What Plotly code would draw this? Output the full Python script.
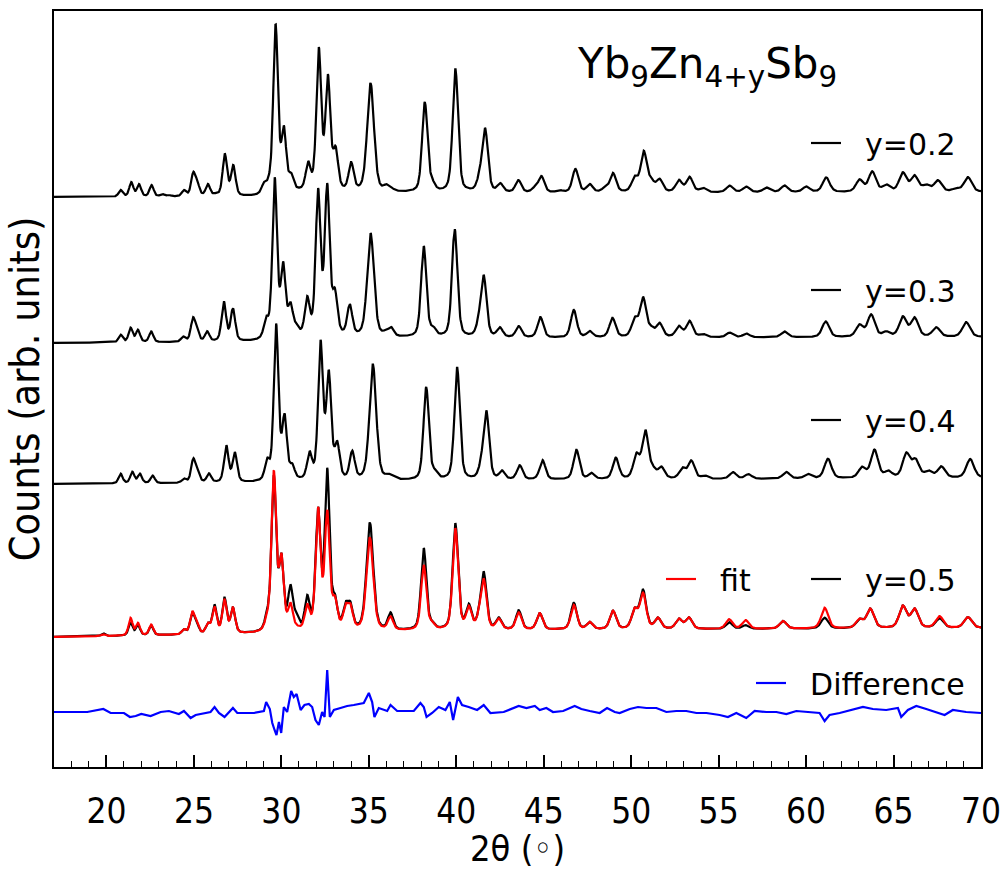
import numpy as np
import plotly.graph_objects as go

# ---------------- data ----------------
# peak positions (2theta, deg) and peak heights above background (arb. units)
pos_02 = [20.81, 21.42, 21.86, 22.58, 23.19, 23.57, 24.43, 24.96, 25.19, 25.80, 26.24, 26.77, 27.25,
          29.00, 29.29, 29.67, 30.14, 30.56, 31.53, 32.14, 32.66, 33.10, 33.99, 35.10, 36.00, 36.33,
          38.20, 38.62, 39.57, 39.95, 40.70, 41.34, 41.65, 42.52, 43.55, 44.50, 44.87, 45.90, 46.81,
          47.63, 48.49, 48.96, 50.20, 50.72, 51.15, 51.63, 52.73, 53.34, 54.10, 55.63, 56.58, 57.73,
          58.77, 60.01, 61.15, 63.06, 63.78, 64.58, 65.53, 66.20, 66.87, 67.54, 68.58, 69.25]
hgt_02 = [7, 15, 13, 12, 3, 2, 7, 25, 17, 13, 4, 43, 32,
          14, 21, 171, 69, 21, 32, 146, 119, 47, 31, 110, 9, 5,
          91, 15, 15, 124, 5, 25, 65, 10, 13, 7, 17, 3, 24,
          9, 6, 20, 17, 42, 15, 14, 13, 16, 5, 7, 6, 5,
          7, 6, 15, 13, 21, 8, 20, 17, 8, 12, 4, 15]

pos_03 = [19.82, 20.81, 21.38, 21.80, 22.56, 24.39, 24.94, 25.15, 25.76, 26.71, 27.23, 29.13, 29.62,
          30.10, 30.52, 30.85, 31.48, 32.10, 32.62, 33.06, 33.91, 35.10, 35.95, 36.28, 38.14, 38.68,
          39.63, 39.91, 40.70, 41.29, 41.57, 42.49, 43.57, 44.81, 46.72, 47.63, 48.93, 50.20, 50.68,
          51.15, 51.63, 52.73, 53.34, 54.10, 55.63, 56.58, 58.77, 61.12, 63.06, 63.72, 64.58, 65.53,
          66.20, 67.44, 69.15]
hgt_03 = [1, 8, 15, 13, 11, 6, 25, 17, 11, 41, 34, 25, 163,
          78, 37, 15, 42, 150, 155, 50, 34, 105, 8, 11, 92, 12,
          21, 109, 3, 26, 63, 11, 12, 21, 28, 7, 20, 21, 41,
          12, 15, 12, 17, 4, 5, 4, 6, 16, 13, 23, 6, 21,
          20, 10, 15]

pos_04 = [20.81, 21.48, 21.91, 22.64, 24.43, 24.96, 25.20, 25.86, 26.85, 27.34, 29.19, 29.70, 30.18,
          30.62, 31.61, 32.24, 32.71, 33.19, 34.05, 35.23, 36.09, 36.40, 38.28, 38.77, 39.70, 40.05,
          41.42, 41.72, 42.62, 43.63, 44.93, 46.87, 47.73, 49.12, 50.30, 50.81, 51.25, 51.73, 52.93,
          53.44, 54.20, 55.82, 56.70, 58.87, 60.10, 61.25, 63.20, 63.91, 64.70, 65.73, 66.26, 67.00,
          67.73, 69.38]
hgt_04 = [10, 12, 10, 8, 5, 25, 15, 10, 38, 31, 25, 159, 69,
          19, 31, 142, 112, 41, 31, 117, 8, 6, 94, 12, 15, 113,
          25, 70, 10, 15, 20, 30, 7, 22, 27, 50, 14, 13, 12,
          19, 4, 7, 5, 7, 5, 20, 12, 29, 8, 26, 20, 8,
          12, 19]

pos_05 = [19.82, 21.38, 21.80, 22.56, 24.43, 24.90, 25.15, 25.80, 26.18, 26.75, 27.23, 29.19, 29.57,
          30.00, 30.52, 30.85, 31.48, 32.10, 32.62, 33.06, 33.67, 33.95, 35.06, 36.24, 38.14, 38.62,
          39.60, 39.95, 40.72, 41.30, 41.57, 42.43, 43.57, 44.77, 46.72, 47.63, 48.96, 50.20, 50.68,
          51.53, 52.73, 53.30, 55.60, 56.54, 58.68, 61.06, 63.06, 63.67, 65.53, 66.20, 67.63, 69.25]
hgt_05_obs = [3, 13, 11, 10, 6, 23, 14, 12, 30, 37, 27, 25, 158,
              80, 48, 20, 37, 125, 164, 38, 30, 30, 109, 19, 83, 10,
              15, 107, 27, 25, 59, 13, 20, 17, 27, 8, 19, 22, 40,
              12, 11, 12, 7, 4, 8, 11, 10, 20, 23, 20, 10, 11]
hgt_05_fit = [2, 18, 13, 11, 6, 24, 14, 12, 28, 35, 27, 22, 163,
              80, 30, 8, 28, 125, 122, 36, 28, 28, 94, 15, 66, 10,
              15, 102, 25, 24, 52, 12, 18, 17, 25, 8, 19, 22, 37,
              12, 11, 12, 10, 9, 8, 21, 10, 20, 23, 20, 12, 11]

# background (relative rise) knots, common x positions
bg_x = [17.0, 28.5, 31.0, 45.0, 70.0]
bg_02 = [0, 0, 4, 4, 5]
bg_03 = [0, 1, 5, 5, 6]
bg_04 = [0, 1, 2, 4, 6]
bg_05 = [0, 3, 5, 7, 9]

# difference curve (obs - fit), read point by point
diff_x = [17.0, 18.9, 19.82, 20.24, 21.0, 21.34, 21.67, 21.99, 22.52, 23.1, 23.57, 24.14, 24.43, 24.81,
          25.1, 25.38, 25.95, 26.18, 26.43, 26.75, 27.0, 27.23, 27.48, 28.43, 29.0, 29.13, 29.34, 29.48,
          29.61, 29.72, 29.86, 29.99, 30.14, 30.33, 30.56, 30.71, 30.87, 31.1, 31.32, 31.57, 31.76, 31.95,
          32.14, 32.33, 32.47, 32.62, 32.77, 33.0, 33.38, 33.76, 34.14, 34.71, 35.0, 35.19, 35.32, 35.57,
          36.05, 36.24, 36.62, 37.57, 37.95, 38.14, 38.3, 38.62, 39.0, 39.38, 39.63, 39.82, 40.09, 40.33,
          40.71, 41.19, 41.57, 41.95, 42.71, 43.57, 44.01, 44.49, 44.77, 45.15, 45.53, 46.11, 46.77, 47.15,
          47.63, 48.2, 48.62, 49.06, 49.34, 49.92, 50.39, 50.87, 51.44, 52.01, 52.58, 53.15, 53.73, 54.3,
          55.06, 55.53, 56.01, 56.58, 57.06, 57.73, 58.3, 58.87, 59.44, 60.2, 60.77, 61.06, 61.34, 61.92,
          62.68, 63.25, 63.82, 64.58, 65.25, 65.44, 65.82, 66.3, 66.87, 67.44, 67.92, 68.39, 69.15, 70.0]
diff_y = [0, 0, 3, -1, -1, -5, -4, -2, -4, 0, 1, -2, 1, -6,
          -3, -2, 0, 5, -1, -5, 0, 4, -1, -1, 1, 10, 3, -11,
          -18, -23, -10, -21, 5, 0, 21, 15, 18, 2, 7, 8, 5, -8,
          -13, 0, -5, 42, -5, 2, 4, 6, 7, 9, 19, 10, -5, 4,
          1, 7, 1, 1, 9, 5, -5, -1, 5, 2, 10, -8, 15, 7,
          5, 2, 7, -1, 0, 6, 4, 6, 2, 4, 0, 1, 6, 3,
          1, -1, 4, 0, -1, 3, 5, 4, 4, 0, 1, 1, -1, -1,
          -3, -5, -1, -6, 1, 0, 0, -2, 1, 0, -1, -9, -3, -1,
          2, 5, 3, 2, 4, -5, 2, 6, 3, 0, -3, 2, 0, -1]

# vertical stacking offsets
offset = {"0.2": 570, "0.3": 424, "0.4": 283, "0.5": 130, "diff": 55}

x_ticks = [20, 25, 30, 35, 40, 45, 50, 55, 60, 65, 70]

# ---------------- profile construction ----------------
tt = np.arange(17.0, 70.0001, 0.02)


def fwhm(c):
    c = np.asarray(c, dtype=float)
    w = 0.27 + 0.005 * (c - 20.0)
    return np.where(np.abs(c - 35.1) < 0.2, 0.46, w)


def pv(x, c, w, eta=0.4):
    d = (x - c) / w
    return eta / (1 + 4 * d * d) + (1 - eta) * np.exp(-4 * np.log(2) * d * d)


def pattern(pos, hgt, bg, off):
    pos = np.asarray(pos, float)
    hgt = np.asarray(hgt, float)
    w = fwhm(pos)
    P = pv(pos[:, None], pos[None, :], w[None, :])
    a = hgt.copy()
    for _ in range(600):
        a = np.clip(a + 0.6 * (hgt - P @ a), 0, None)
    y = (pv(tt[:, None], pos[None, :], w[None, :]) * a[None, :]).sum(axis=1)
    return off + np.interp(tt, bg_x, bg) + y


y02 = pattern(pos_02, hgt_02, bg_02, offset["0.2"])
y03 = pattern(pos_03, hgt_03, bg_03, offset["0.3"])
y04 = pattern(pos_04, hgt_04, bg_04, offset["0.4"])
y05 = pattern(pos_05, hgt_05_obs, bg_05, offset["0.5"])
y05fit = pattern(pos_05, hgt_05_fit, bg_05, offset["0.5"])
ydiff = offset["diff"] + np.asarray(diff_y, float)

# ---------------- figure ----------------
NB = "\u00a0\u00a0"
fig = go.Figure()
lw = 2.2
fig.add_trace(go.Scatter(x=tt, y=y02, mode="lines", line=dict(color="black", width=lw),
                         name=NB + "y=0.2", legend="legend"))
fig.add_trace(go.Scatter(x=tt, y=y03, mode="lines", line=dict(color="black", width=lw),
                         name=NB + "y=0.3", legend="legend2"))
fig.add_trace(go.Scatter(x=tt, y=y04, mode="lines", line=dict(color="black", width=lw),
                         name=NB + "y=0.4", legend="legend3"))
fig.add_trace(go.Scatter(x=tt, y=y05, mode="lines", line=dict(color="black", width=lw),
                         name=NB + "y=0.5", legend="legend5"))
fig.add_trace(go.Scatter(x=tt, y=y05fit, mode="lines", line=dict(color="#ff0000", width=lw),
                         name=NB + "fit", legend="legend4"))
fig.add_trace(go.Scatter(x=diff_x, y=ydiff, mode="lines", line=dict(color="#0000ff", width=lw),
                         name=NB + "Difference", legend="legend6"))

L = 54; R = 981; T = 11; B = 767
PW = R - L; PH = B - T


def px(xp):
    return (xp - L) / PW


def py(yp):
    return (B - yp) / PH


leg_font = dict(family="DejaVu Sans", size=30, color="black")


def leg(xp, yp):
    return dict(x=px(xp), y=py(yp), xanchor="left", yanchor="middle", bgcolor="rgba(0,0,0,0)",
                borderwidth=0, font=leg_font, tracegroupgap=0)


cond = "Liberation Sans Narrow, DejaVu Sans Condensed, Arial Narrow, sans-serif"
tick_font = dict(family=cond, size=35, color="black")

fig.update_layout(
    width=1005, height=869, autosize=False,
    margin=dict(l=L, r=1005 - R, t=T, b=869 - B, pad=0),
    paper_bgcolor="white", plot_bgcolor="white",
    showlegend=True,
    legend=leg(806, 143),
    legend2=leg(806, 290),
    legend3=leg(806, 420),
    legend4=leg(661, 579),
    legend5=leg(806, 579),
    legend6=leg(751, 683),
    xaxis=dict(range=[17, 70], tickmode="array", tickvals=x_ticks, ticktext=[str(v) for v in x_ticks],
               ticks="inside", ticklen=12, tickwidth=1.5, tickcolor="black",
               minor=dict(dtick=1, tick0=0, ticks="inside", ticklen=6, tickwidth=1.2, tickcolor="black",
                          showgrid=False),
               showline=True, linecolor="black", linewidth=1.5, mirror=True,
               showgrid=False, zeroline=False, tickfont=tick_font, ticklabelstandoff=12,
               title=dict(text="2θ (◦)", font=dict(family=cond, size=36, color="black"), standoff=20),
               automargin=False),
    yaxis=dict(range=[0, PH], showticklabels=False, ticks="", showline=True, linecolor="black",
               linewidth=1.5, mirror=True, showgrid=False, zeroline=False,
               title=dict(text="Counts (arb. units)", font=dict(family=cond, size=41, color="black"),
                          standoff=0),
               automargin=False),
    annotations=[dict(text="Yb<sub>9</sub>Zn<sub>4+y</sub>Sb<sub>9</sub>", xref="paper", yref="paper",
                      x=px(575), y=py(66), xanchor="left", yanchor="middle", showarrow=False,
                      font=dict(family="DejaVu Sans", size=42, color="black"))],
)

fig.write_html("out.html", config={"displayModeBar": False},
               post_script="document.body.style.margin='0px';document.body.style.overflow='hidden';")
